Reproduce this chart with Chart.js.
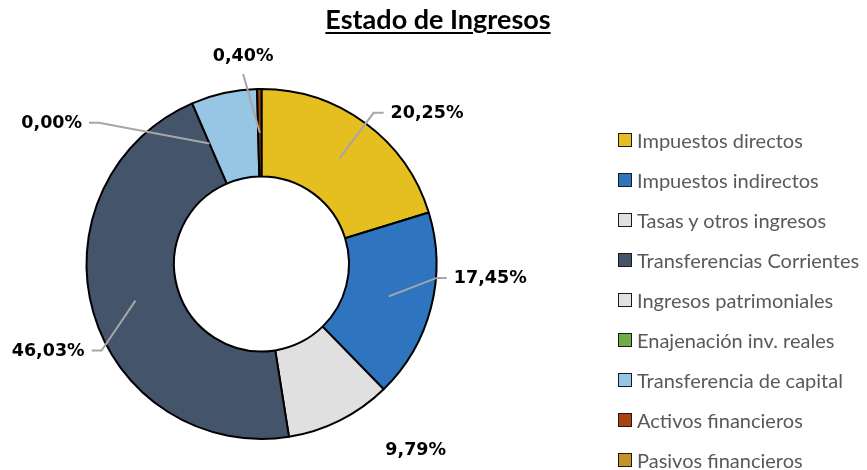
<!DOCTYPE html>
<html lang="es">
<head>
  <meta charset="UTF-8">
  <title>Estado de Ingresos</title>
  <script src="https://cdn.jsdelivr.net/npm/chart.js"></script>
  <style>
    body { margin: 0; background: #fff; }
    .wrap { position: relative; width: 867px; height: 470px; overflow: hidden; }
    .title {
      position: absolute; left: 438px; top: 2px; transform: translateX(-50%);
      font: bold 27px Lato, sans-serif; color: #000; white-space: nowrap;
      text-decoration: underline; text-decoration-thickness: 2px; text-underline-offset: 3px;
    }
    .legend { position: absolute; left: 618px; top: 120px; margin: 0; padding: 0; list-style: none; }
    .legend li {
      height: 40px; line-height: 40px; display: flex; align-items: center;
      font: 20px Lato, sans-serif; color: #595959; white-space: nowrap;
    }
    .legend span.box {
      width: 14px; height: 14px; box-sizing: border-box; border: 1.5px solid #1a1a1a;
      margin-right: 5px; flex: none;
    }
  </style>
</head>
<body>
<div class="wrap">
  <canvas id="ingresos" width="867" height="470"></canvas>
  <div class="title">Estado de Ingresos</div>
  <ul class="legend" id="legend"></ul>
</div>

<script>
  const categories = [
    'Impuestos directos',
    'Impuestos indirectos',
    'Tasas y otros ingresos',
    'Transferencias Corrientes',
    'Ingresos patrimoniales',
    'Enajenación inv. reales',
    'Transferencia de capital',
    'Activos financieros',
    'Pasivos financieros'
  ];
  const percentages = [20.25, 17.45, 9.79, 46.03, 0.00, 0.00, 6.08, 0.40, 0.00];
  const colors = ['#E4BF1F', '#2E74BE', '#E0E0E0', '#44546A', '#E2E2E2', '#70AD47', '#97C6E5', '#A9440E', '#C8922A'];

  // where each value label sits, relative to the centre in units of the outer radius;
  // leader: 'side' = elbow with a short horizontal stub, 'below' = straight line, null = no line
  const labelLayout = [
    { x: 0.946, y: -0.858, leader: 'side' },
    { x: 1.307, y: 0.085, leader: 'side' },
    { x: 0.881, y: 1.068, leader: null },
    { x: -1.219, y: 0.500, leader: 'side' },
    { x: -1.199, y: -0.801, leader: 'side' },
    null,
    null,
    { x: -0.105, y: -1.188, leader: 'below' },
    null
  ];

  const fmt = v => v.toFixed(2).replace('.', ',') + '%';

  // html legend
  const legendEl = document.getElementById('legend');
  categories.forEach((name, i) => {
    const li = document.createElement('li');
    const box = document.createElement('span');
    box.className = 'box';
    box.style.background = colors[i];
    li.appendChild(box);
    li.appendChild(document.createTextNode(name));
    legendEl.appendChild(li);
  });

  const valueLabels = {
    id: 'valueLabels',
    afterDatasetsDraw(chart) {
      const ctx = chart.ctx;
      const arcs = chart.getDatasetMeta(0).data;
      ctx.save();
      ctx.font = 'bold 17.5px "DejaVu Sans", sans-serif';
      ctx.textAlign = 'center';
      ctx.textBaseline = 'middle';
      arcs.forEach((arc, i) => {
        const lay = labelLayout[i];
        if (!lay) return;
        const cx = arc.x, cy = arc.y, R = arc.outerRadius;
        const text = fmt(percentages[i]);
        const w = ctx.measureText(text).width;
        const lx = cx + lay.x * R;
        const ly = cy + lay.y * R;
        const anchor = arc.tooltipPosition();

        ctx.strokeStyle = '#A6A6A6';
        ctx.lineWidth = 2;
        if (lay.leader === 'side') {
          const dir = lx > anchor.x ? 1 : -1;
          const edge = lx - dir * (w / 2 + 7);
          const ey = ly - 1;
          ctx.beginPath();
          ctx.moveTo(anchor.x, anchor.y);
          ctx.lineTo(edge - dir * 10, ey);
          ctx.lineTo(edge, ey);
          ctx.stroke();
        } else if (lay.leader === 'below') {
          ctx.beginPath();
          ctx.moveTo(anchor.x, anchor.y);
          ctx.lineTo(lx, ly + 18);
          ctx.stroke();
        }

        ctx.fillStyle = '#000';
        ctx.fillText(text, lx, ly);
      });
      ctx.restore();
    }
  };

  new Chart(document.getElementById('ingresos'), {
    type: 'doughnut',
    data: {
      labels: categories,
      datasets: [{
        data: percentages,
        backgroundColor: colors,
        borderColor: '#000',
        borderWidth: 2
      }]
    },
    options: {
      responsive: false,
      animation: false,
      cutout: '50%',
      layout: { padding: { left: 85, right: 429, top: 88, bottom: 30 } },
      plugins: {
        legend: { display: false },
        tooltip: { enabled: false }
      }
    },
    plugins: [valueLabels]
  });
</script>
</body>
</html>
